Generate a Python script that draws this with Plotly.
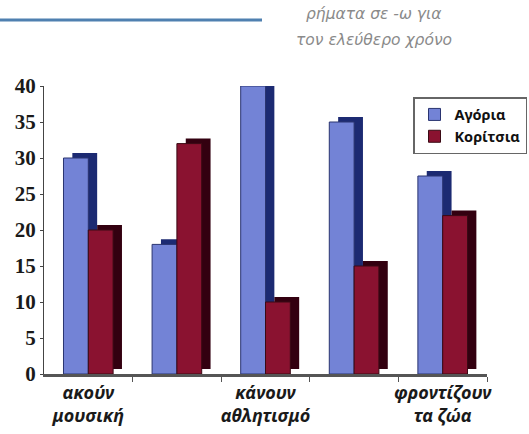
import plotly.graph_objects as go

categories = ["ακούν<br>μουσική", "", "κάνουν<br>αθλητισμό", "", "φροντίζουν<br>τα ζώα"]
series_names = ["Αγόρια", "Κορίτσια"]
boys = [30, 18, 40, 35, 27.5]
girls = [20, 32, 10, 15, 22]
y_ticks = [0, 5, 10, 15, 20, 25, 30, 35, 40]
header_lines = ["ρήματα σε -ω για", "τον ελεύθερο χρόνο"]

x = list(range(len(categories)))
bw = 0.28
depth_x = 0.1
depth_y = 0.7

front_colors = ["#7383d6", "#8a1230"]
side_colors = ["#1c2a72", "#330010"]
edge_colors = ["#2a3470", "#3a0a14"]

fig = go.Figure()
for i, (name, vals) in enumerate(zip(series_names, [boys, girls])):
    off = -bw if i == 0 else 0.0
    fig.add_trace(go.Bar(
        x=x, y=vals, base=depth_y, offset=off + depth_x, width=bw,
        marker=dict(color=side_colors[i], line=dict(width=0)),
        showlegend=False, hoverinfo="skip", cliponaxis=False))
    fig.add_trace(go.Bar(
        x=x, y=vals, offset=off, width=bw, name=name, cliponaxis=False,
        marker=dict(color=front_colors[i], line=dict(color=edge_colors[i], width=1))))

fig.update_layout(
    width=529, height=434,
    margin=dict(l=44, r=42, t=86, b=60, autoexpand=False),
    paper_bgcolor="white", plot_bgcolor="white",
    barmode="overlay",
    showlegend=True,
    legend=dict(
        x=(527 - 44) / 443, y=1 - (97 - 86) / 288, xanchor="right", yanchor="top",
        bgcolor="white", bordercolor="#666", borderwidth=1.5,
        font=dict(family="Noto Sans", size=14.5, color="#111", weight="bold"),
        tracegroupgap=0, itemwidth=30,
    ),
    xaxis=dict(
        range=[-0.5, len(categories) - 0.5],
        tickvals=[i for i, c in enumerate(categories) if c],
        ticktext=[c for c in categories if c],
        ticks="", showgrid=False, zeroline=False, automargin=False,
        showline=True, linecolor="#555", linewidth=3,
        tickfont=dict(family="Noto Sans", size=18, color="#1a1a1a", style="italic", weight="bold"),
        minor=dict(tickvals=[i + 0.5 for i in range(len(categories))],
                   ticks="outside", ticklen=5, tickcolor="#555", tickwidth=1),
        fixedrange=True,
    ),
    yaxis=dict(
        range=[0, 40], tickvals=y_ticks, automargin=False,
        ticks="outside", ticklen=3, tickcolor="#444",
        showline=True, linecolor="#444", linewidth=1,
        showgrid=False, zeroline=False,
        tickfont=dict(family="Liberation Serif", size=21, color="#1a1a1a", weight="bold"),
        ticklabelstandoff=0,
        fixedrange=True,
    ),
    shapes=[dict(type="line", xref="paper", yref="paper",
                 x0=-44 / 443, x1=218 / 443, y0=1 + 66 / 288, y1=1 + 66 / 288,
                 line=dict(color="#4f80b0", width=3))],
    annotations=[
        dict(text=header_lines[0], xref="paper", yref="paper",
             x=(373 - 44) / 443, y=1 + (86 - 14) / 288, showarrow=False,
             xanchor="center", yanchor="middle",
             font=dict(family="DejaVu Sans", size=15.5, color="#8a8a8a", style="italic")),
        dict(text=header_lines[1], xref="paper", yref="paper",
             x=(374 - 44) / 443, y=1 + (86 - 40) / 288, showarrow=False,
             xanchor="center", yanchor="middle",
             font=dict(family="DejaVu Sans", size=15.5, color="#8a8a8a", style="italic")),
    ],
)

fig.write_html("out.html", config={"displayModeBar": False},
               post_script="document.body.style.margin='0px';")
